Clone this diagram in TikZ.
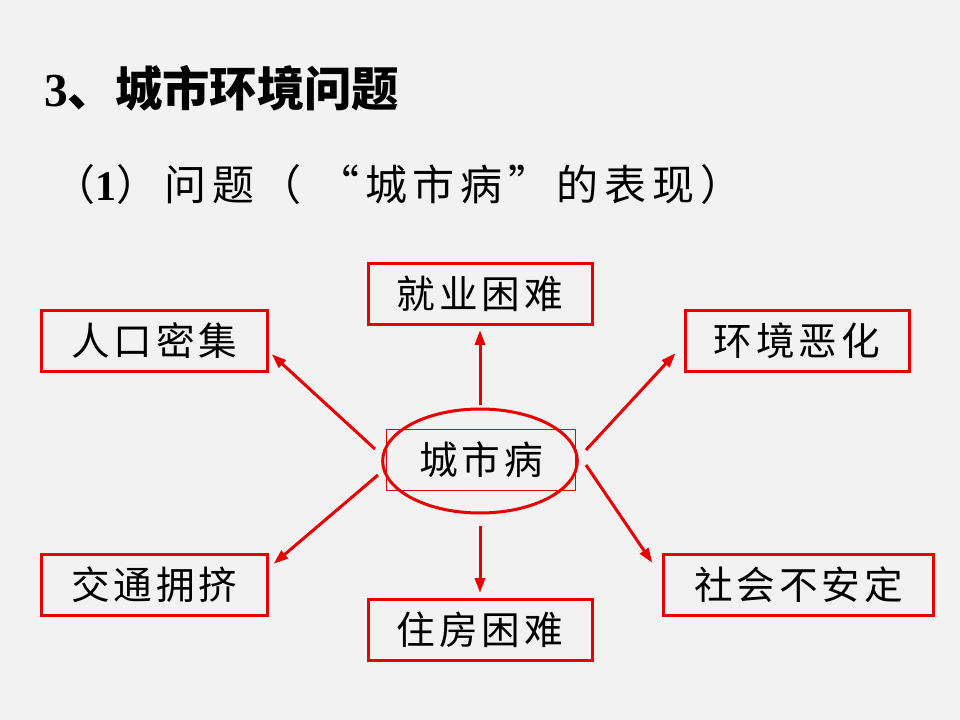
\documentclass[tikz,border=0pt]{standalone}
\usepackage{fontspec}
\setmainfont{Liberation Serif}
\newfontfamily\cjk{Noto Sans CJK SC}
\newfontfamily\cjksp[LetterSpace=10]{Noto Sans CJK SC}
\newfontfamily\cjkwide[LetterSpace=14]{Noto Sans CJK SC}
\usetikzlibrary{shapes.geometric,arrows.meta}
\definecolor{bg}{RGB}{242,242,242}
\definecolor{linered}{RGB}{232,0,0}

\begin{document}
\begin{tikzpicture}[x=0.75pt,y=-0.75pt,
    redbox/.style={draw=linered, line width=2.25pt, minimum height=46pt, inner sep=0pt,
      font=\cjksp\fontsize{29}{34}\selectfont},
    redarr/.style={draw=linered, line width=2.25pt, -{Triangle[length=11pt,width=7.5pt]}}]
  \fill[bg] (0,0) rectangle (960,720);
  % headings
  \node[anchor=west, inner sep=0pt, font=\cjk\bfseries\fontsize{35.5}{40}\selectfont] (title) at (44,88)
    {{\rmfamily\bfseries 3}、城市环境问题};
  \node[anchor=west, inner sep=0pt, font=\cjkwide\fontsize{31.5}{36}\selectfont] (sub) at (53,185)
    {（{\rmfamily\bfseries 1}）问题（ “城市病”的表现）};
  % boxes
  \node[redbox, minimum width=168pt] (jyjn) at (480,294) {就业困难};
  \node[redbox, minimum width=169pt] (rkmj) at (154.5,341) {人口密集};
  \node[redbox, minimum width=168pt] (hjeh) at (797,341) {环境恶化};
  \node[redbox, minimum width=169pt] (jtyj) at (154.5,585) {交通拥挤};
  \node[redbox, minimum width=168pt] (zfkn) at (480,630) {住房困难};
  \node[redbox, minimum width=202pt] (shbad) at (798.5,585) {社会不安定};
  % center
  \node[draw=linered, line width=0.75pt, minimum width=142pt, minimum height=46pt, inner sep=0pt,
    font=\cjksp\fontsize{29}{34}\selectfont] (city) at (481,460) {城市病};
  \node[ellipse, draw=linered, line width=2.25pt, minimum width=146pt, minimum height=78pt] (cityring) at (480,461) {};
  % arrows
  \draw[redarr] ([shift={(0,-56)}]cityring.center) -- ([shift={(0,4)}]jyjn.south);
  \draw[redarr] ([shift={(-105,-12)}]cityring.center) -- ([shift={(3,-19)}]rkmj.south east);
  \draw[redarr] ([shift={(106,-11)}]cityring.center) -- ([shift={(-8,-20)}]hjeh.south west);
  \draw[redarr] ([shift={(-102,14)}]cityring.center) -- ([shift={(5,11)}]jtyj.north east);
  \draw[redarr] ([shift={(0,65)}]cityring.center) -- ([shift={(0,-5)}]zfkn.north);
  \draw[redarr] ([shift={(106,4)}]cityring.center) -- ([shift={(-10,10)}]shbad.north west);
\end{tikzpicture}
\end{document}
